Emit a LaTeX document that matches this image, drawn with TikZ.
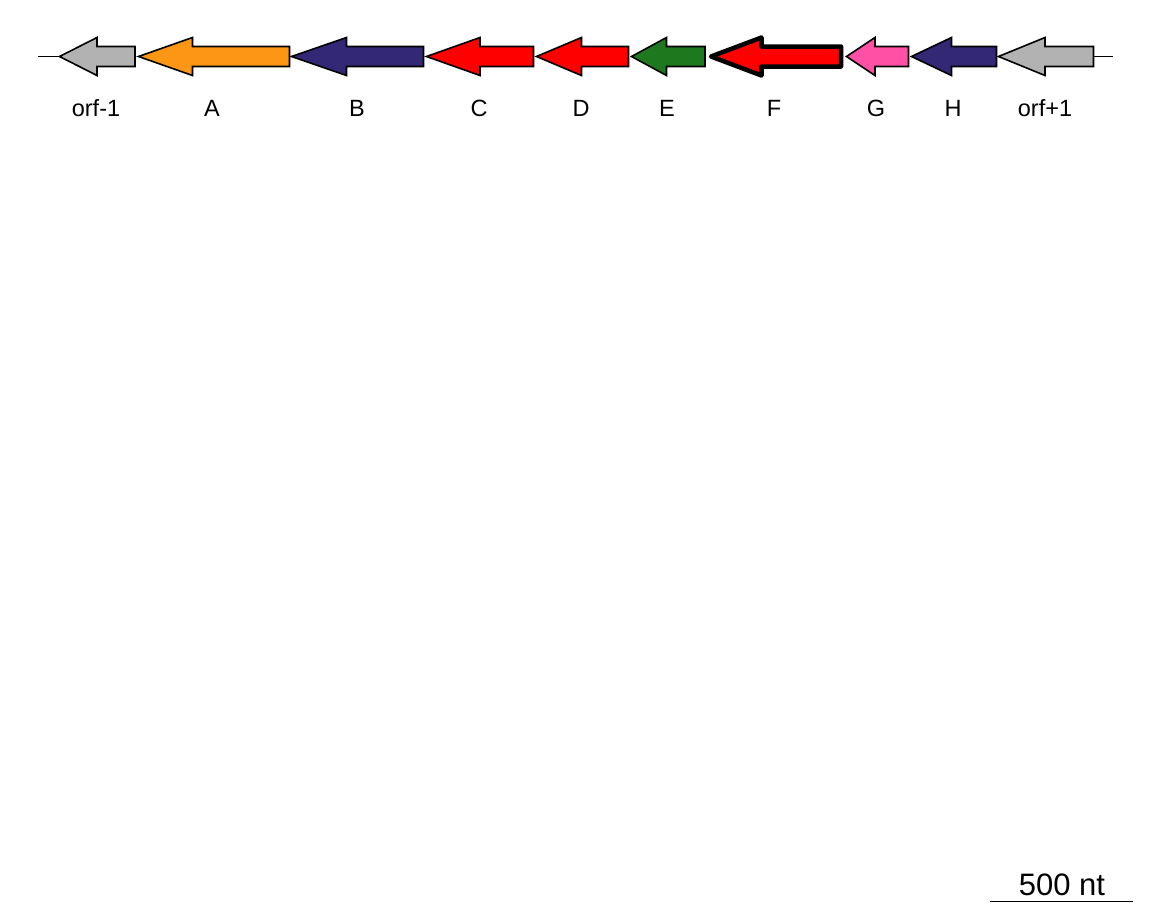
\documentclass[tikz,border=0pt]{standalone}
\usepackage{fontspec}
\setmainfont{Liberation Sans}
\definecolor{ggray}{RGB}{178,178,178}
\definecolor{gorange}{RGB}{252,150,20}
\definecolor{gnavy}{RGB}{50,40,118}
\definecolor{gred}{RGB}{255,0,0}
\definecolor{ggreen}{RGB}{30,120,30}
\definecolor{gpink}{RGB}{255,80,165}
\newcommand\genearrow[5][]{%
  \draw[genestyle,fill=#5,#1] (#2,56.5) -- (#3,37.5) -- (#3,46.5) -- (#4,46.5) -- (#4,66.5) -- (#3,66.5) -- (#3,75.5) -- cycle;}
\begin{document}
\begin{tikzpicture}[x=1pt,y=-1pt,
  genestyle/.style={draw=black,line width=1.6pt,line join=miter},
  lbl/.style={anchor=base,font=\fontsize{23.5}{27}\selectfont,inner sep=0pt},
  bar/.style={line width=1.6pt}]
\useasboundingbox (0,0) rectangle (1152,921);
\coordinate (l0) at (38,56.5);
\coordinate (l1) at (59.5,56.5);
\coordinate (r0) at (1093.5,56.5);
\coordinate (r1) at (1113,56.5);
\draw[bar] (l0) -- (l1);
\draw[bar] (r0) -- (r1);
\genearrow{59.5}{97}{135}{ggray}
\genearrow{138.5}{192.5}{289.5}{gorange}
\genearrow{291.5}{346.5}{423.5}{gnavy}
\genearrow{426.5}{480}{533.5}{gred}
\genearrow{536.5}{581.5}{628.5}{gred}
\genearrow{631.5}{666.5}{705}{ggreen}
\genearrow[line width=4.5pt,line join=round]{711}{761.5}{841}{gred}
\genearrow{846.5}{875}{908.5}{gpink}
\genearrow{911.5}{951.5}{996.5}{gnavy}
\genearrow{998.5}{1045}{1093.5}{ggray}
\node[lbl] (torf1) at (96,116) {orf-1};
\node[lbl] (tA) at (212,116) {A};
\node[lbl] (tB) at (357,116) {B};
\node[lbl] (tC) at (479,116) {C};
\node[lbl] (tD) at (581,116) {D};
\node[lbl] (tE) at (667,116) {E};
\node[lbl] (tF) at (774,116) {F};
\node[lbl] (tG) at (876,116) {G};
\node[lbl] (tH) at (953,116) {H};
\node[lbl] (torf2) at (1045,116) {orf+1};
\coordinate (s0) at (990,901.5);
\coordinate (s1) at (1133,901.5);
\draw[bar] (s0) -- (s1);
\node[anchor=base,font=\fontsize{31}{35}\selectfont,inner sep=0pt] (scale) at (1062,895) {500 nt};
\end{tikzpicture}
\end{document}
